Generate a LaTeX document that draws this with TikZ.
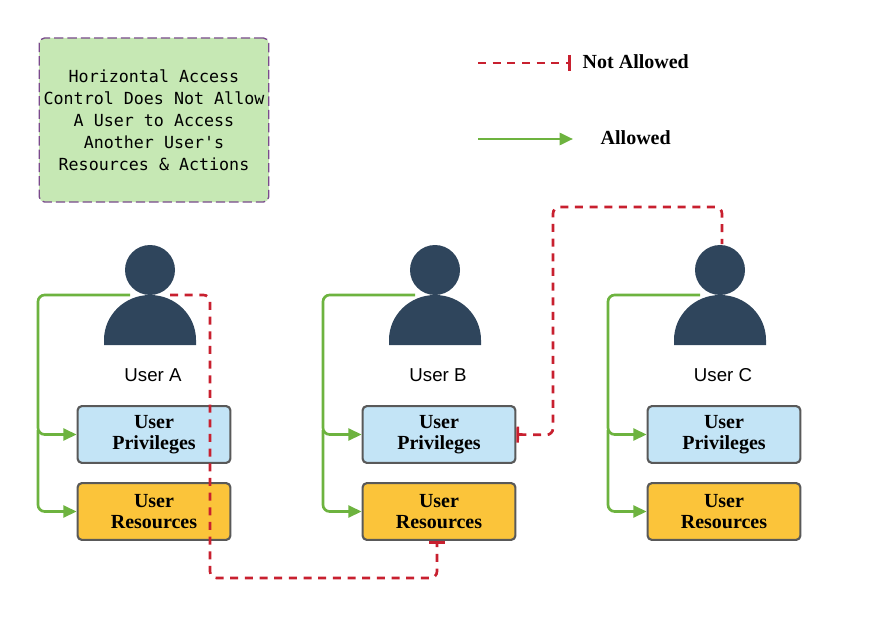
\documentclass[tikz,border=0pt]{standalone}
\usepackage{fontspec}
\setmainfont{Liberation Serif}
\newfontfamily\monof{DejaVu Sans Mono}
\newfontfamily\sansf{Liberation Sans}
\usetikzlibrary{arrows.meta}
\definecolor{deny}{HTML}{C8202F}
\definecolor{allow}{HTML}{6DB33F}
\definecolor{person}{HTML}{2F455C}
\definecolor{privfill}{HTML}{C3E4F6}
\definecolor{resfill}{HTML}{FBC43A}
\definecolor{notefill}{HTML}{C6E8B4}
\definecolor{notedraw}{HTML}{7A4A8C}
\begin{document}
\begin{tikzpicture}[x=0.75pt,y=-0.75pt, line join=round,
  box/.style={draw=black!65, line width=1.6pt, rounded corners=3pt, minimum width=114.5pt, minimum height=42.5pt, inner sep=1pt, align=center, font=\bfseries\fontsize{15}{15.5}\selectfont},
  priv/.style={box, fill=privfill},
  res/.style={box, fill=resfill},
  ok/.style={draw=allow, line width=2pt, rounded corners=5pt, -{Triangle[length=10pt,width=9pt]}},
  no/.style={draw=deny, line width=2pt, dash pattern=on 6pt off 5pt, rounded corners=5pt, -{Bar[width=12pt,line width=2pt]}},
  lbl/.style={font=\sansf\fontsize{14}{14}\selectfont}]
\useasboundingbox (0,0) rectangle (875,617);
% note
\node[draw=notedraw, dash pattern=on 7pt off 3pt, line width=1pt, fill=notefill, rounded corners=4pt,
  minimum width=171pt, minimum height=123pt, align=center,
  font=\monof\fontsize{12.5}{16.5}\selectfont] (note) at (154,120)
  {Horizontal Access\\Control Does Not Allow\\A User to Access\\Another User's\\Resources \& Actions};
% legend
\coordinate (n1) at (478,63); \coordinate (n2) at (571,63);
\draw[no] (n1) -- (n2);
\node[anchor=west, font=\bfseries\scshape\fontsize{15}{15}\selectfont] (nal) at (578,62) {Not Allowed};
\coordinate (a1) at (478,139); \coordinate (a2) at (573,139);
\draw[ok] (a1) -- (a2);
\node[anchor=west, font=\bfseries\scshape\fontsize{15}{15}\selectfont] (al) at (596,138) {Allowed};
% users
\foreach \n/\x/\l in {A/150/A, B/435/B, C/720/C}{
  \fill[person] (\x,270) circle (25);
  \fill[person] (\x-46,345) -- (\x-46,340) arc[x radius=46, y radius=45, start angle=180, end angle=360] -- (\x+46,345) -- cycle;
  \node[lbl] (u\n) at (\x+3,375) {User \l};
  \node[priv] (p\n) at (\x+4,434.5) {User\\Privileges};
  \node[res] (r\n) at (\x+4,511.5) {User\\Resources};
  \coordinate (g\n) at (\x-20,295);
  \draw[ok] (g\n) -- (\x-112,295) |- (p\n.west);
  \draw[ok] (\x-112,430) |- (r\n.west);
}
% not allowed paths
\coordinate (dA) at (170,295);
\draw[no] (dA) -- (210,295) -- (210,578) -- (437,578) -- (437,541);
\coordinate (hC) at (722,244);
\draw[no, {Bar[width=12pt,line width=2pt]}-] (pB.east) -- (553,435) -- (553,207) -- (722,207) -- (hC);
\end{tikzpicture}
\end{document}
